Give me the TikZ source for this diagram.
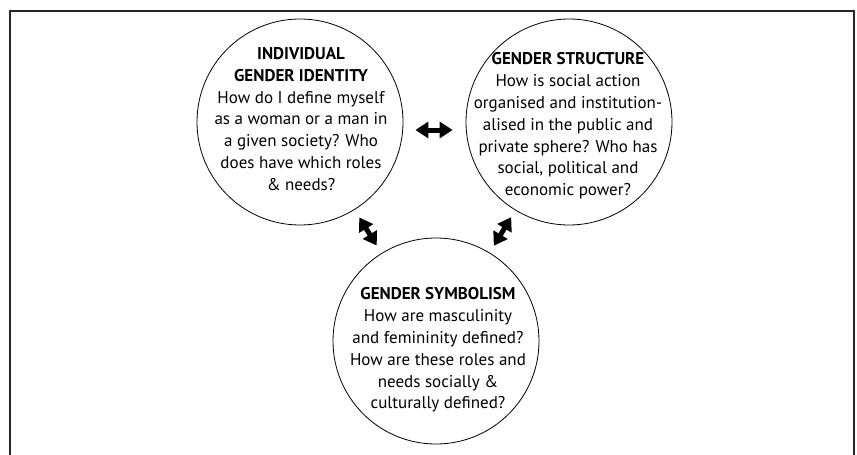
\documentclass[tikz,border=0pt]{standalone}
\usepackage{fontspec}
\setmainfont{PT Sans}
\usetikzlibrary{arrows.meta}
\begin{document}
\begin{tikzpicture}[x=1pt,y=-1pt,
    bubble/.style={circle,draw,line width=0.8pt,minimum size=206pt,inner sep=0pt},
    txt/.style={align=center,inner sep=0pt,font=\fontsize{17}{21.8}\selectfont},
    dbl/.style={line width=5pt,{Triangle[length=13pt,width=16pt]}-{Triangle[length=13pt,width=16pt]}},
    frame/.style={line width=2pt,draw=black!85}]
  \useasboundingbox (0,0) rectangle (857,455);
  \draw[frame] (9.5,455) -- (9.5,10.5) -- (853.5,10.5) -- (853.5,455);
  % the three spheres
  \node[bubble] at (300,122) (ind) {};
  \node[bubble] at (569,122) (str) {};
  \node[bubble] at (436,341) (sym) {};
  \node[txt] at (301,119) (indtxt) {\textbf{INDIVIDUAL}\\\textbf{GENDER IDENTITY}\\How do I define myself\\as a woman or a man in\\a given society? Who\\does have which roles\\\& needs?};
  \node[txt] at (568,126) (strtxt) {\textbf{GENDER STRUCTURE}\\How is social action\\organised and institution-\\alised in the public and\\private sphere? Who has\\social, political and\\economic power?};
  \node[txt] at (438,350) (symtxt) {\textbf{GENDER SYMBOLISM}\\How are masculinity\\and femininity defined?\\How are these roles and\\needs socially \&\\culturally defined?};
  % links
  \draw[dbl,shorten <=12pt,shorten >=13pt] ([yshift=-8pt]ind.east) -- ([yshift=-8pt]str.west);
  \draw[dbl,shorten <=9pt,shorten >=9pt] (ind) -- (sym);
  \draw[dbl,shorten <=8pt,shorten >=8pt] (str) -- (sym);
\end{tikzpicture}
\end{document}
